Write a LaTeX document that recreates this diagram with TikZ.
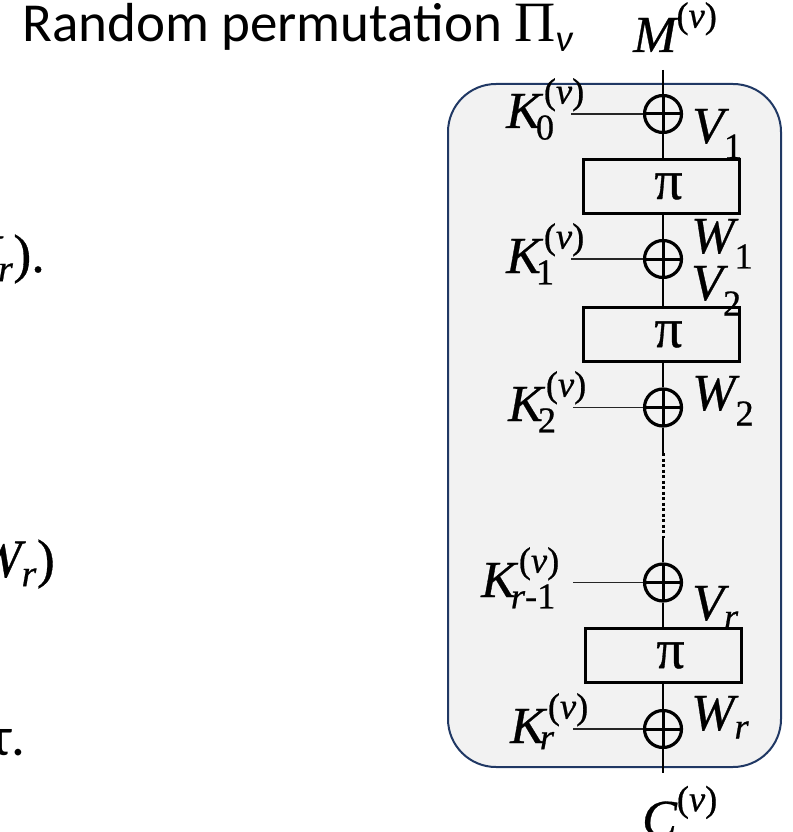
\documentclass[tikz,border=0pt]{standalone}
\usepackage{amsmath}
\usepackage{fontspec}
\setmainfont{Liberation Serif}
\newfontfamily\calib{Carlito}
\newfontfamily\lblfont{Liberation Serif}[FakeBold=0.6]
\definecolor{framefill}{HTML}{F2F2F2}
\definecolor{framedraw}{HTML}{203864}
\newcommand\ita[1]{\text{\itshape #1}}
\newcommand\pnu{\text{\upshape(\itshape ν\/\upshape)}}
\newcommand\Klab[1]{\ita{K}^{\hspace{3pt}\pnu}_{\hspace{-5pt}\text{#1}}}
\begin{document}
\begin{tikzpicture}[x=1pt,y=-1pt,
  lbl/.style={inner sep=0pt, font=\lblfont\fontsize{52}{58}\selectfont},
  frag/.style={inner sep=0pt, font=\lblfont\fontsize{54}{60}\selectfont},
  xorc/.style={circle, draw, line width=3.2pt, minimum size=37pt, inner sep=0pt,
    path picture={\draw[line width=3pt] (path picture bounding box.north) -- (path picture bounding box.south)
      (path picture bounding box.west) -- (path picture bounding box.east);}},
  pbox/.style={draw, line width=2.6pt, minimum width=156pt, minimum height=54pt, inner sep=0pt,
    font=\lblfont\fontsize{56}{60}\selectfont},
  wire/.style={line width=1.6pt},
  kwire/.style={line width=1.6pt, black!85}]
\useasboundingbox (0,0) rectangle (792,832);
\clip (0,0) rectangle (792,832);

% title and cut-off slide text
\node[anchor=base west, inner sep=0pt, font=\calib\fontsize{55}{60}\selectfont] (title) at (22,42)
  {Random permutation $\text{\rmfamily\fontsize{57}{60}\selectfont Π}_{\ita{ν}}$};
\node[frag, anchor=base east] (fr1) at (45,272) {$\ita{V}_{\ita{r}}$).};
\node[frag, anchor=base east] (fr2) at (55,577) {$\ita{W}_{\ita{r}}$)};
\node[frag, anchor=base east, font=\calib\fontsize{55}{60}\selectfont] (fr3) at (26,755) {τ.};

% frame
\node[draw=framedraw, fill=framefill, line width=2pt, rounded corners=48pt,
  minimum width=333pt, minimum height=683pt, inner sep=0pt] (frame) at (614.5,425.5) {};

% xor nodes and permutation boxes
\node[xorc] (x0) at (663,114) {};
\node[pbox] (p1) at (661.5,186.5) {\hspace*{14pt}π};
\node[xorc] (x1) at (663,259) {};
\node[pbox] (p2) at (661.5,334.5) {\hspace*{14pt}π};
\node[xorc] (x2) at (663,407.5) {};
\node[xorc] (xr1) at (663,582.5) {};
\node[pbox] (p3) at (663.5,655.5) {\hspace*{14pt}π};
\node[xorc] (xr) at (663,729) {};

% wire end points
\coordinate (top) at (663,70);
\coordinate (bot) at (663,773);
\coordinate (d1) at (663,453);
\coordinate (d2) at (663,538);
\coordinate (k0s) at (571,114);
\coordinate (k1s) at (571,259);
\coordinate (k2s) at (573,407.5);
\coordinate (kr1s) at (573,582.5);
\coordinate (krs) at (573,729);

% main wire
\draw[wire] (top) -- (x0.north);
\draw[wire] (x0.south) -- (x0.south |- p1.north);
\draw[wire] (x1.north |- p1.south) -- (x1.north);
\draw[wire] (x1.south) -- (x1.south |- p2.north);
\draw[wire] (x2.north |- p2.south) -- (x2.north);
\draw[wire] (x2.south) -- (d1);
\draw[line width=3pt, dash pattern=on 3pt off 2.5pt] (d1) -- (d2);
\draw[wire] (d2) -- (xr1.north);
\draw[wire] (xr1.south) -- (xr1.south |- p3.north);
\draw[wire] (xr.north |- p3.south) -- (xr.north);
\draw[wire] (xr.south) -- (bot);

% key wires
\draw[kwire] (k0s) -- (x0.west);
\draw[kwire] (k1s) -- (x1.west);
\draw[kwire] (k2s) -- (x2.west);
\draw[kwire] (kr1s) -- (xr1.west);
\draw[kwire] (krs) -- (xr.west);

% labels
\node[lbl, anchor=base west] (M) at (633,52) {$\ita{M}^{\pnu}$};
\node[lbl, anchor=base west] (C) at (642,836) {$\ita{C}^{\pnu}$};
\node[lbl, anchor=base west] (k0) at (506,128) {$\Klab{0}$};
\node[lbl, anchor=base west] (k1) at (506,273) {$\Klab{1}$};
\node[lbl, anchor=base west] (k2) at (508,421) {$\Klab{2}$};
\node[lbl, anchor=base west] (kr1) at (481,597) {$\ita{K}^{\hspace{3pt}\pnu}_{\hspace{-5pt}\text{\itshape r\upshape -1}}$};
\node[lbl, anchor=base west] (kr) at (510,743) {$\ita{K}^{\hspace{3pt}\pnu}_{\hspace{-5pt}\ita{r}}$};
\node[lbl, anchor=base west] (v1) at (692,143) {$\ita{V}_{\text{1}}$};
\node[lbl, anchor=base west] (w1) at (691,253) {$\ita{W}_{\text{1}}$};
\node[lbl, anchor=base west] (v2) at (691,300) {$\ita{V}_{\text{2}}$};
\node[lbl, anchor=base west] (w2) at (692,410) {$\ita{W}_{\text{2}}$};
\node[lbl, anchor=base west] (vr) at (692,620) {$\ita{V}_{\ita{r}}$};
\node[lbl, anchor=base west] (wr) at (691,730) {$\ita{W}_{\ita{r}}$};
\end{tikzpicture}
\end{document}
